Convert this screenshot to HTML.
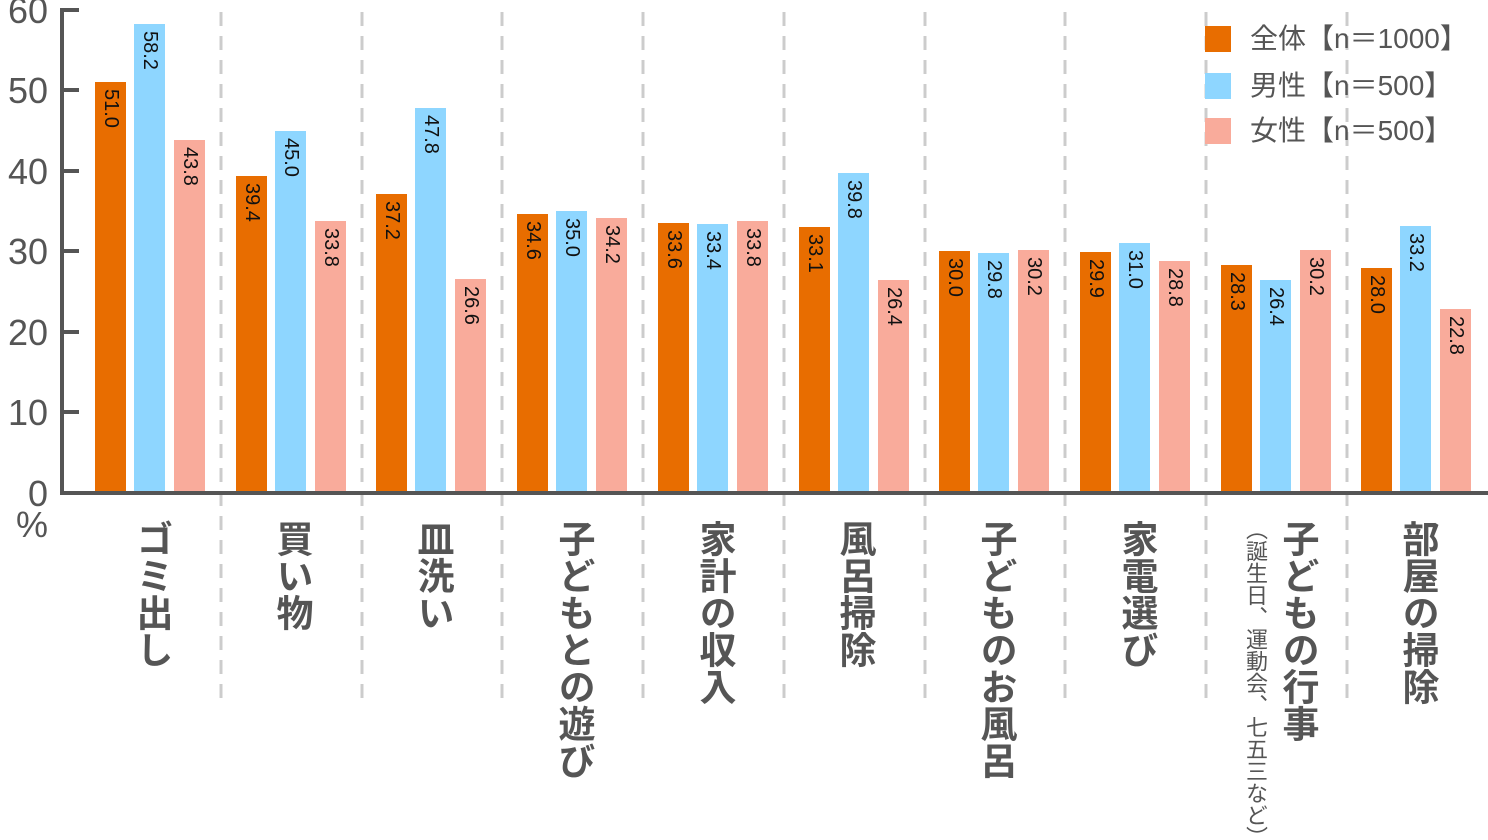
<!DOCTYPE html>
<html><head><meta charset="utf-8"><style>
html,body{margin:0;padding:0;background:#fff;}
#c{position:relative;width:1488px;height:840px;overflow:hidden;font-family:"Liberation Sans","Noto Sans CJK JP",sans-serif;}
.lab{position:absolute;top:520px;writing-mode:vertical-rl;font-weight:bold;color:#555;font-size:37px;line-height:40px;}
.sub{position:absolute;top:518px;writing-mode:vertical-rl;color:#555;font-size:22px;line-height:24px;}
</style></head><body><div id="c">
<svg width="1488" height="840" style="position:absolute;left:0;top:0" font-family="Liberation Sans, Noto Sans CJK JP, sans-serif">
<g stroke="#ccc" stroke-width="3" stroke-dasharray="14,10">
<line x1="221" y1="12" x2="221" y2="700"/><line x1="362" y1="12" x2="362" y2="700"/><line x1="502" y1="12" x2="502" y2="700"/><line x1="643" y1="12" x2="643" y2="700"/><line x1="784" y1="12" x2="784" y2="700"/><line x1="925" y1="12" x2="925" y2="700"/><line x1="1065" y1="12" x2="1065" y2="700"/><line x1="1206" y1="12" x2="1206" y2="700"/><line x1="1347" y1="12" x2="1347" y2="700"/>
</g>
<g>
<rect x="95" y="82" width="31" height="411" fill="#E86D00"/><rect x="134" y="24" width="31" height="469" fill="#8ED6FF"/><rect x="174" y="140" width="31" height="353" fill="#F9AB9B"/>
<rect x="236" y="176" width="31" height="317" fill="#E86D00"/><rect x="275" y="131" width="31" height="362" fill="#8ED6FF"/><rect x="315" y="221" width="31" height="272" fill="#F9AB9B"/>
<rect x="376" y="194" width="31" height="299" fill="#E86D00"/><rect x="415" y="108" width="31" height="385" fill="#8ED6FF"/><rect x="455" y="279" width="31" height="214" fill="#F9AB9B"/>
<rect x="517" y="214" width="31" height="279" fill="#E86D00"/><rect x="556" y="211" width="31" height="282" fill="#8ED6FF"/><rect x="596" y="218" width="31" height="275" fill="#F9AB9B"/>
<rect x="658" y="223" width="31" height="270" fill="#E86D00"/><rect x="697" y="224" width="31" height="269" fill="#8ED6FF"/><rect x="737" y="221" width="31" height="272" fill="#F9AB9B"/>
<rect x="799" y="227" width="31" height="266" fill="#E86D00"/><rect x="838" y="173" width="31" height="320" fill="#8ED6FF"/><rect x="878" y="280" width="31" height="213" fill="#F9AB9B"/>
<rect x="939" y="251" width="31" height="242" fill="#E86D00"/><rect x="978" y="253" width="31" height="240" fill="#8ED6FF"/><rect x="1018" y="250" width="31" height="243" fill="#F9AB9B"/>
<rect x="1080" y="252" width="31" height="241" fill="#E86D00"/><rect x="1119" y="243" width="31" height="250" fill="#8ED6FF"/><rect x="1159" y="261" width="31" height="232" fill="#F9AB9B"/>
<rect x="1221" y="265" width="31" height="228" fill="#E86D00"/><rect x="1260" y="280" width="31" height="213" fill="#8ED6FF"/><rect x="1300" y="250" width="31" height="243" fill="#F9AB9B"/>
<rect x="1361" y="268" width="31" height="225" fill="#E86D00"/><rect x="1400" y="226" width="31" height="267" fill="#8ED6FF"/><rect x="1440" y="309" width="31" height="184" fill="#F9AB9B"/>
</g>
<g font-size="20" fill="#111" dominant-baseline="central">
<text transform="translate(111,89) rotate(90)">51.0</text><text transform="translate(150,31) rotate(90)">58.2</text><text transform="translate(190,147) rotate(90)">43.8</text>
<text transform="translate(252,183) rotate(90)">39.4</text><text transform="translate(291,138) rotate(90)">45.0</text><text transform="translate(331,228) rotate(90)">33.8</text>
<text transform="translate(392,201) rotate(90)">37.2</text><text transform="translate(431,115) rotate(90)">47.8</text><text transform="translate(471,286) rotate(90)">26.6</text>
<text transform="translate(533,221) rotate(90)">34.6</text><text transform="translate(572,218) rotate(90)">35.0</text><text transform="translate(612,225) rotate(90)">34.2</text>
<text transform="translate(674,230) rotate(90)">33.6</text><text transform="translate(713,231) rotate(90)">33.4</text><text transform="translate(753,228) rotate(90)">33.8</text>
<text transform="translate(815,234) rotate(90)">33.1</text><text transform="translate(854,180) rotate(90)">39.8</text><text transform="translate(894,287) rotate(90)">26.4</text>
<text transform="translate(955,258) rotate(90)">30.0</text><text transform="translate(994,260) rotate(90)">29.8</text><text transform="translate(1034,257) rotate(90)">30.2</text>
<text transform="translate(1096,259) rotate(90)">29.9</text><text transform="translate(1135,250) rotate(90)">31.0</text><text transform="translate(1175,268) rotate(90)">28.8</text>
<text transform="translate(1237,272) rotate(90)">28.3</text><text transform="translate(1276,287) rotate(90)">26.4</text><text transform="translate(1316,257) rotate(90)">30.2</text>
<text transform="translate(1377,275) rotate(90)">28.0</text><text transform="translate(1416,233) rotate(90)">33.2</text><text transform="translate(1456,316) rotate(90)">22.8</text>
</g>
<g stroke="#555" stroke-width="4" fill="none">
<polyline points="79,10 62,10 62,493 1488,493"/>
<line x1="62" y1="90" x2="79" y2="90"/><line x1="62" y1="171" x2="79" y2="171"/><line x1="62" y1="251" x2="79" y2="251"/><line x1="62" y1="332" x2="79" y2="332"/><line x1="62" y1="412" x2="79" y2="412"/>
</g>
<g fill="#555" font-size="36" text-anchor="end">
<text x="48" y="23">60</text><text x="48" y="103">50</text><text x="48" y="184">40</text><text x="48" y="264">30</text><text x="48" y="345">20</text><text x="48" y="425">10</text><text x="48" y="506">0</text>
<text x="48" y="537">%</text>
</g>
<rect x="1205" y="26" width="26" height="26" fill="#E86D00"/>
<rect x="1205" y="73" width="26" height="26" fill="#8ED6FF"/>
<rect x="1205" y="118" width="26" height="26" fill="#F9AB9B"/>
<g fill="#555" font-size="28">
<text x="1250" y="48">全体【n＝1000】</text>
<text x="1250" y="95">男性【n＝500】</text>
<text x="1250" y="140">女性【n＝500】</text>
</g>
</svg>
<div class="lab" style="left:131px">ゴミ出し</div>
<div class="lab" style="left:271px">買い物</div>
<div class="lab" style="left:412px">皿洗い</div>
<div class="lab" style="left:553px">子どもとの遊び</div>
<div class="lab" style="left:694px">家計の収入</div>
<div class="lab" style="left:834px">風呂掃除</div>
<div class="lab" style="left:975px">子どものお風呂</div>
<div class="lab" style="left:1116px">家電選び</div>
<div class="lab" style="left:1277px">子どもの行事</div>
<div class="sub" style="left:1243px">（誕生日、運動会、七五三など）</div>
<div class="lab" style="left:1397px">部屋の掃除</div>
</div></body></html>
